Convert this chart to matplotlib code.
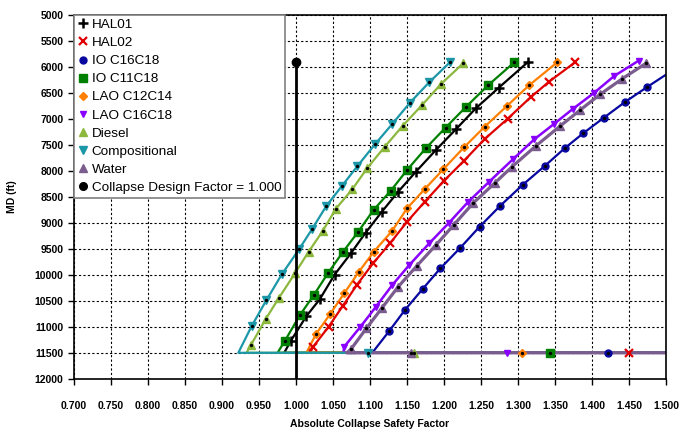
import matplotlib.pyplot as plt
from matplotlib.lines import Line2D
from matplotlib.ticker import MultipleLocator, FormatStrFormatter

plt.rcParams['font.family'] = ['Liberation Sans', 'DejaVu Sans']

# depth of the bottom (horizontal) leg and where it runs off to
shoe_md = 11500
tail_end = 1.6

hal01_sf = [1.313, 1.274, 1.243, 1.216, 1.189, 1.162, 1.138, 1.116, 1.094, 1.074, 1.052, 1.032, 1.014, 0.993]
hal01_md = [5916, 6404, 6800, 7204, 7602, 8019, 8404, 8788, 9192, 9590, 10000, 10473, 10794, 11269]
hal01_corner = 0.984
hal01_tail = None

hal02_sf = [1.377, 1.342, 1.317, 1.286, 1.255, 1.227, 1.200, 1.174, 1.150, 1.127, 1.104, 1.082, 1.063, 1.044, 1.023]
hal02_md = [5916, 6288, 6588, 7000, 7390, 7808, 8192, 8596, 8981, 9396, 9781, 10198, 10602, 11000, 11385]
hal02_corner = 1.019
hal02_tail = 1.450

io1618_sf = [1.525, 1.474, 1.444, 1.416, 1.388, 1.363, 1.336, 1.306, 1.276, 1.248, 1.222, 1.195, 1.171, 1.147, 1.126]
io1618_md = [5920, 6396, 6685, 6981, 7281, 7569, 7910, 8275, 8673, 9077, 9481, 9877, 10275, 10679, 11080]
io1618_corner = 1.103
io1618_tail = 1.422

io1118_sf = [1.295, 1.260, 1.230, 1.202, 1.176, 1.150, 1.128, 1.105, 1.084, 1.063, 1.043, 1.024, 1.005, 0.985]
io1118_md = [5916, 6352, 6769, 7173, 7558, 7987, 8385, 8750, 9173, 9569, 9973, 10390, 10781, 11269]
io1118_corner = 0.975
io1118_tail = 1.343

lao1214_sf = [1.353, 1.315, 1.285, 1.255, 1.227, 1.199, 1.174, 1.150, 1.130, 1.105, 1.085, 1.065, 1.046, 1.027]
lao1214_md = [5916, 6358, 6756, 7154, 7550, 7973, 8352, 8723, 9154, 9558, 9942, 10358, 10756, 11140]
lao1214_corner = 1.014
lao1214_tail = 1.305

lao1618_sf = [1.463, 1.430, 1.402, 1.374, 1.348, 1.322, 1.293, 1.261, 1.232, 1.206, 1.180, 1.153, 1.130, 1.108, 1.087, 1.065]
lao1618_md = [5885, 6179, 6512, 6813, 7108, 7396, 7781, 8212, 8608, 9012, 9396, 9813, 10198, 10615, 11000, 11385]
lao1618_corner = 1.064
lao1618_tail = 1.285

diesel_sf = [1.226, 1.196, 1.170, 1.144, 1.120, 1.096, 1.076, 1.054, 1.036, 1.017, 0.999, 0.977, 0.959, 0.939]
diesel_md = [5935, 6333, 6742, 7140, 7538, 7954, 8358, 8727, 9160, 9558, 9962, 10442, 10852, 11352]
diesel_corner = 0.933
diesel_tail = 1.160

comp_sf = [1.208, 1.180, 1.154, 1.130, 1.107, 1.083, 1.062, 1.041, 1.022, 1.004, 0.981, 0.960, 0.940]
comp_md = [5916, 6300, 6692, 7102, 7487, 7910, 8294, 8676, 9115, 9512, 9987, 10487, 10987]
comp_corner = 0.922
comp_tail = 1.097

water_sf = [1.473, 1.441, 1.411, 1.384, 1.357, 1.324, 1.292, 1.269, 1.239, 1.213, 1.189, 1.163, 1.138, 1.116, 1.095, 1.074]
water_md = [5935, 6231, 6531, 6833, 7140, 7525, 7923, 8231, 8627, 9044, 9429, 9833, 10231, 10640, 11031, 11435]
water_corner = 1.0685
water_tail = 1.155

design_factor = 1.000
design_top_md = 5916

names = ['HAL01', 'HAL02', 'IO C16C18', 'IO C11C18', 'LAO C12C14',
         'LAO C16C18', 'Diesel', 'Compositional', 'Water']

# ------------------------------------------------------------------
series = [
    (hal01_sf, hal01_md, hal01_corner, hal01_tail),
    (hal02_sf, hal02_md, hal02_corner, hal02_tail),
    (io1618_sf, io1618_md, io1618_corner, io1618_tail),
    (io1118_sf, io1118_md, io1118_corner, io1118_tail),
    (lao1214_sf, lao1214_md, lao1214_corner, lao1214_tail),
    (lao1618_sf, lao1618_md, lao1618_corner, lao1618_tail),
    (diesel_sf, diesel_md, diesel_corner, diesel_tail),
    (comp_sf, comp_md, comp_corner, comp_tail),
    (water_sf, water_md, water_corner, water_tail),
]

# style per series: colour, marker, marker size, line width, centre dot?
styles = [
    dict(color='black', marker='+', ms=7, mew=1.8, lw=1.6, dot=False),
    dict(color='#e00000', marker='x', ms=5.5, mew=1.6, lw=1.6, dot=False),
    dict(color='#0808a0', marker='o', ms=5, mew=1.0, lw=1.6, dot=True),
    dict(color='#008000', marker='s', ms=5.5, mew=1.0, lw=1.6, dot=True),
    dict(color='#ff8000', marker='D', ms=3.8, mew=1.0, lw=1.6, dot=True),
    dict(color='#8a00ff', marker='v', ms=4.5, mew=1.0, lw=1.8, dot=False),
    dict(color='#8cb83e', marker='^', ms=6, mew=1.0, lw=1.6, dot=True),
    dict(color='#1b97a8', marker='v', ms=6, mew=1.0, lw=1.6, dot=True),
    dict(color='#7a5c8e', marker='^', ms=6, mew=1.0, lw=2.3, dot=True),
]

fig = plt.figure(figsize=(6.79, 4.29), dpi=100)
ax = fig.add_axes([0.109, 0.117, 0.872, 0.849])

for (sf, md, corner, tail), st in zip(series, styles):
    xs = list(sf) + [corner, tail_end]
    ys = list(md) + [shoe_md, shoe_md]
    ax.plot(xs, ys, color=st['color'], lw=st['lw'], zorder=2)
    mx = list(sf)
    my = list(md)
    if tail is not None:
        mx.append(tail)
        my.append(shoe_md)
    ax.plot(mx, my, linestyle='none', marker=st['marker'], ms=st['ms'],
            mew=st['mew'], color=st['color'], mec=st['color'], zorder=3)
    if st['dot']:
        ax.plot(mx, my, linestyle='none', marker='o', ms=1.4, color='black', zorder=4)

# collapse design factor line
ax.plot([design_factor, design_factor], [design_top_md, 12500], color='black', lw=2, zorder=5)
ax.plot([design_factor], [design_top_md], 'o', color='black', ms=6, zorder=5)

ax.set_xlim(0.7, 1.5)
ax.set_ylim(12000, 5000)
ax.xaxis.set_major_locator(MultipleLocator(0.05))
ax.xaxis.set_major_formatter(FormatStrFormatter('%.3f'))
ax.yaxis.set_major_locator(MultipleLocator(500))

ax.grid(True, color='black', linestyle=(0, (2, 2)), lw=0.8)
ax.set_axisbelow(True)
for sp in ax.spines.values():
    sp.set_linewidth(1.2)

ax.tick_params(axis='both', direction='out', length=4, width=1, labelsize=7.5)
ax.tick_params(axis='x', pad=12)
for lab in ax.get_xticklabels() + ax.get_yticklabels():
    lab.set_fontweight('bold')

ax.set_xlabel('Absolute Collapse Safety Factor', fontsize=7.5, fontweight='bold', labelpad=6)
ax.set_ylabel('MD (ft)', fontsize=7.5, fontweight='bold', labelpad=13)

# legend: markers only
handles = []
for st, name in zip(styles, names):
    handles.append(Line2D([], [], linestyle='none', marker=st['marker'], ms=st['ms'],
                          mew=st['mew'], color=st['color'], label=name))
handles.append(Line2D([], [], linestyle='none', marker='o', ms=5.5, color='black',
                      label='Collapse Design Factor = 1.000'))
leg = ax.legend(handles=handles, loc='upper left', bbox_to_anchor=(0, 1),
                borderaxespad=0, fancybox=False, framealpha=1, edgecolor='#808080',
                fontsize=9.7, handlelength=0.7, handletextpad=0.3, labelspacing=0.42,
                borderpad=0.3)
leg.get_frame().set_linewidth(1.2)
leg.set_zorder(10)

fig.savefig('out.png', dpi=100)
